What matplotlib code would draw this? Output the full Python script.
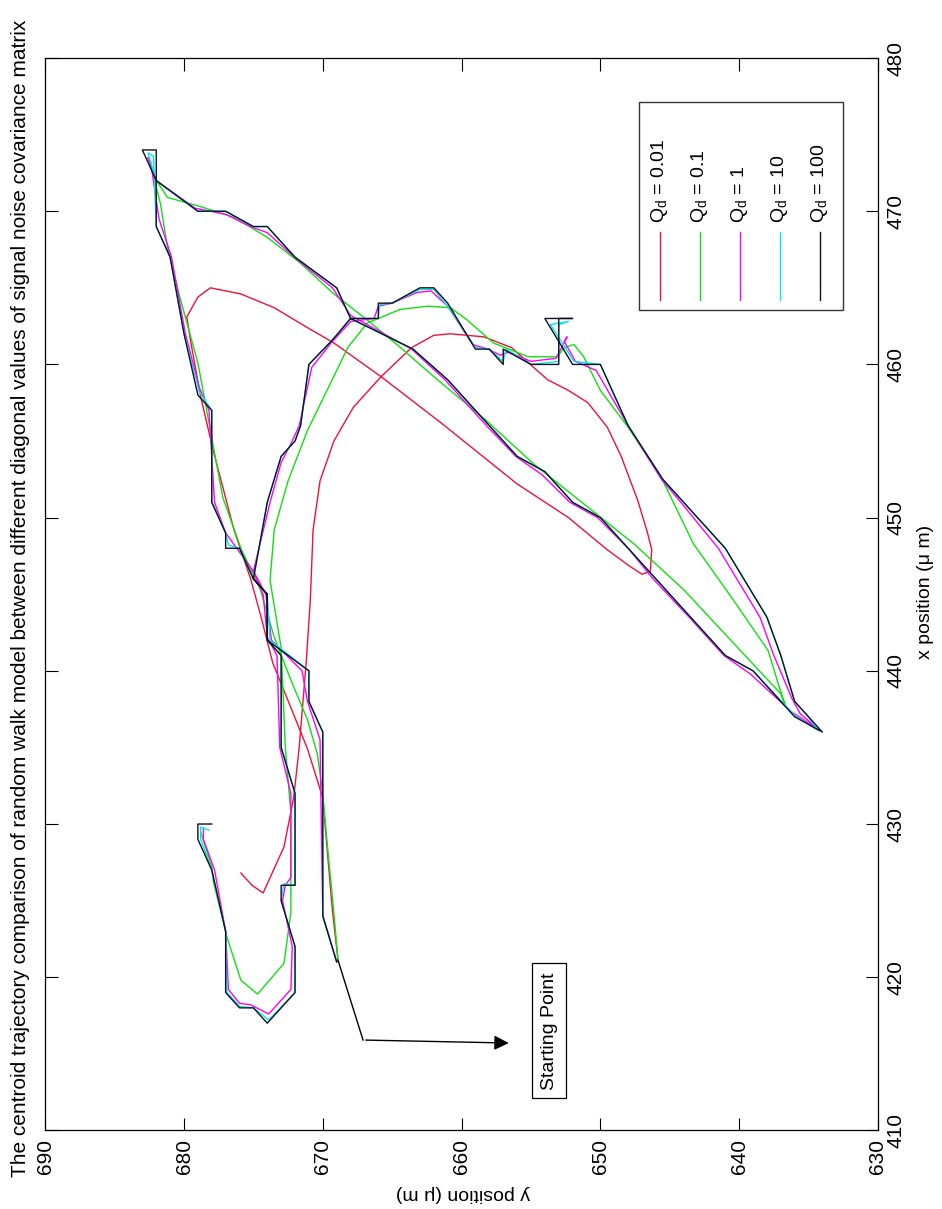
import matplotlib
matplotlib.use("Agg")
import matplotlib.pyplot as plt

plt.rcParams['font.family'] = ['Liberation Sans', 'DejaVu Sans']
plt.rcParams['mathtext.fontset'] = 'custom'
plt.rcParams['mathtext.rm'] = 'Liberation Sans'

# centroid trajectories, x position / y position in micrometres
# Q_d = 100 (practically the raw measurement path)
k_x = [421, 424, 436, 438, 440, 442, 445, 446, 448, 448, 449, 451, 457, 458, 462, 467, 469, 474, 474,
       472, 470, 470, 469, 469, 467, 465, 463, 461, 459, 456, 454, 453, 451, 450, 448, 446, 443.5, 441,
       440, 437, 436, 437, 438, 441, 443.5, 448, 451, 452.5, 456, 460, 460, 463, 463, 463, 460, 460,
       461, 460, 461, 461, 464, 465, 465, 464, 464, 463, 463, 461.6, 460, 456, 455, 454, 451, 446, 445,
       442, 441, 435, 432, 426, 426, 425, 422, 419, 417, 418, 418, 419, 423, 427, 429, 430, 430]
k_y = [669, 670, 670, 671, 671, 674, 674, 675, 676, 677, 677, 678, 678, 679, 680, 681, 682, 682, 683,
       682, 679, 677, 675, 674, 672, 669, 668, 663.5, 661, 658, 656, 654, 652, 650, 648, 646, 643.5, 641,
       639, 636, 634, 635, 636, 637, 638, 641, 644, 645.5, 648, 650, 652, 654, 652, 653, 653, 655,
       657, 657, 658, 659, 661, 662, 663, 665, 666, 666, 668, 669.3, 671, 671.6, 672, 673, 674, 675, 674,
       674, 673, 673, 672, 672, 673, 673, 672, 672, 674, 675, 676, 677, 677, 678, 679, 679, 678]

# Q_d = 10
c_x = [421, 424, 436, 438, 440, 442, 445, 446, 448, 448.2, 449, 451, 457, 458.2, 462, 467, 469, 473.6, 473.8,
       472, 470, 470, 469, 469, 467, 465, 463, 461, 459, 456, 454, 453, 451, 450, 448, 446, 443.5, 441,
       440, 437.1, 436.1, 437.1, 438, 441, 443.5, 448, 451, 452.5, 456, 460, 460.2, 462.6, 462.8, 462.6, 460.2, 460,
       461, 460.2, 461, 461.1, 463.8, 464.9, 464.9, 464, 463.9, 463, 463, 461.6, 460, 456, 455, 454, 451, 446, 445,
       442, 441, 435, 432, 426, 426.1, 425, 422, 419, 417.2, 418, 418.1, 419, 423, 427, 429, 429.8, 429.6]
c_y = [669, 670, 670, 671, 671, 673.8, 674, 675, 676, 676.8, 677, 678, 678, 678.9, 680, 681, 682, 682.2, 682.6,
       682, 679, 677, 675, 674, 672, 669, 668, 663.5, 661, 658, 656, 654, 652, 650, 648, 646, 643.5, 641,
       639, 636, 634.3, 635.1, 636, 637, 638, 641, 644, 645.5, 648, 650, 651.9, 653.6, 652.3, 653, 653, 655,
       656.8, 657, 658, 659, 661, 662, 663, 665, 665.9, 666, 668, 669.3, 671, 671.6, 672, 673, 674, 675, 674,
       674, 673, 673, 672, 672, 672.8, 673, 672, 672, 673.9, 675, 676, 676.9, 677, 678, 678.8, 678.8, 678.2]

# Q_d = 1
m_x = [421, 424, 435.5, 438, 440, 442, 445, 446.5, 448, 449, 451, 457, 458.5, 462, 467, 469.5, 473.2, 473.5,
       472, 470.2, 469.8, 469, 468.6, 466.8, 465, 463.2, 461, 459, 456, 454, 452.8, 451, 450, 448, 446,
       443.5, 441, 439.8, 437.3, 436.2, 437.2, 438.2, 441, 443.5, 448, 451, 452.5, 456, 459.6, 460.2,
       461.5, 461.8, 460.4, 460.2, 460.8, 460.6, 461, 461.3, 463.8, 464.8, 464.7, 464, 463.8, 463, 462.8,
       461.4, 459.8, 456, 455, 453.6, 451, 446.5, 445, 442.2, 441, 435, 432, 426.5, 426, 425, 422, 419.2,
       417.6, 418.2, 418.3, 419.2, 423, 427, 429, 429.7]
m_y = [669, 670, 670.2, 671.1, 671.5, 673.7, 674.1, 675, 676.2, 677, 677.8, 678.2, 678.9, 679.9, 680.9, 681.8, 682.4, 682.6,
       682, 679.2, 677, 675.2, 674, 671.8, 669.3, 668, 663.6, 661.2, 658.2, 656.1, 654.2, 652.2, 650.2, 648, 646.2,
       643.6, 641.1, 639.2, 636.2, 634.3, 635.6, 636.2, 637.5, 638.5, 641.5, 644.2, 645.6, 648, 650.3, 651.8,
       652.6, 652.4, 653.2, 655, 656.6, 657.2, 658.1, 659.2, 661, 662.2, 663.2, 665, 666, 666.3, 668,
       669.4, 670.8, 671.7, 672.2, 673, 673.8, 675, 674.3, 674, 673.3, 673.1, 672.3, 672.3, 672.7, 672.9, 672.2, 672.3,
       673.9, 675.2, 676, 676.8, 677, 677.8, 678.6, 678.6]

# Q_d = 0.1
g_x = [421.1, 424.2, 428.9, 432, 434.6, 436.8, 439.4, 442.2, 445.3, 448, 451.3, 455.7, 460.1, 464.4, 467.7,
       470.5, 472.3, 470.9, 470.3, 469.6, 468.3, 466.6, 464.6, 462.9, 461.1, 459.2, 456.4, 453.5, 450.9,
       448.3, 445.3, 441.8, 438.5, 437.8, 439.2, 441.3, 444.6, 448.3, 452.6, 455.9, 458.3, 460.5, 461.3,
       461.1, 460.5, 460.5, 461.4, 462.9, 463.7, 463.8, 463.6, 462.7, 461.1, 458.3, 455.7, 452.4, 449.2,
       445.9, 441.5, 435, 430.7, 424.2, 420.9, 418.9, 419.8, 422.6, 426.3, 427.2, 429.5]
g_y = [668.9, 669.2, 669.7, 670, 670.4, 671.1, 672.3, 673.5, 674.5, 675.9, 677.2, 678.1, 679, 680.3, 681.2,
       681.7, 682.2, 681.2, 678.8, 676.4, 674, 671.6, 669.2, 666.8, 664.4, 662, 658.3, 654.8, 651.2,
       647.6, 644, 640.4, 637, 636.7, 637.2, 637.9, 640.4, 643.3, 645.6, 648, 650, 651.2, 651.9,
       652.6, 653.1, 655.2, 657.7, 659.6, 660.8, 662.4, 664.4, 666.8, 668.2, 669.7, 671.1, 672.5, 673.5,
       673.8, 673, 672.7, 672.3, 672.3, 672.8, 674.7, 675.9, 676.9, 677.9, 678, 678.8]

# Q_d = 0.01
r_x = [421.1, 424.3, 428.5, 431.7, 434.9, 437.6, 440.5, 443.7, 446, 449.2, 454.4, 457.9, 461.4, 463.1,
       464.4, 465, 464.6, 463.7, 462.4, 461.4, 459.2, 456.2, 452.2, 450, 447.9, 446.9, 446.3, 446.5,
       447.9, 449, 451.1, 454, 455.9, 457.5, 458.3, 459, 459.8, 461.1, 461.8, 462, 461.9, 461.1, 459.2,
       457.2, 455, 452.4, 449.2, 444.6, 440.5, 435, 431.7, 428.5, 425.5, 426, 426.8]
r_y = [668.9, 669.3, 669.7, 670, 671.1, 672.3, 673.6, 674.5, 675.2, 676.4, 677.9, 678.8, 679.5, 679.8,
       679, 678.1, 675.9, 673.5, 671.1, 669.2, 665.8, 661.5, 656, 652.3, 649.5, 648, 647, 646.4,
       646.3, 646.6, 647.3, 648.5, 649.5, 650.9, 652.3, 653.8, 654.8, 656.4, 658.4, 660.8, 662, 663.6, 665.8,
       667.8, 669.2, 670.2, 670.7, 670.9, 671.2, 671.7, 672.1, 672.8, 674.3, 675.1, 675.9]

series = [
    (r_x, r_y, '#f0103a', 'Q$_{\\rm d}$ = 0.01'),
    (g_x, g_y, '#10e010', 'Q$_{\\rm d}$ = 0.1'),
    (m_x, m_y, '#ff00ff', 'Q$_{\\rm d}$ = 1'),
    (c_x, c_y, '#00e8e8', 'Q$_{\\rm d}$ = 10'),
    (k_x, k_y, '#101020', 'Q$_{\\rm d}$ = 100'),
]

start = (421.1, 668.9)
bend = (415.9, 667.1)
tip = (415.7, 656.4)
label_pos = (416.5, 653.7)

x_ticks = [410, 420, 430, 440, 450, 460, 470, 480]
y_ticks = [690, 680, 670, 660, 650, 640, 630]

title = ("The centroid trajectory comparison of random walk model between different "
         "diagonal values of signal noise covariance matrix")

# page is turned: y runs along the horizontal axis (reversed), x runs upward
fig = plt.figure(figsize=(9.42, 12.09), dpi=100)
ax = fig.add_axes([0.048, 0.065, 0.884, 0.887])

for xs, ys, col, lab in series:
    ax.plot(ys, xs, color=col, lw=1.0)

ax.set_xlim(690, 630)
ax.set_ylim(410, 480)
ax.set_xticks(y_ticks)
ax.set_yticks(x_ticks)
ax.tick_params(direction='in', length=9, width=0.8, top=True, bottom=True, left=True, right=True,
               labelleft=False, labelright=True, labelsize=15, pad=6)
for t in ax.get_xticklabels():
    t.set_rotation(90)
for t in ax.get_yticklabels():
    t.set_rotation(90)
    t.set_va('center')
for s in ax.spines.values():
    s.set_linewidth(0.9)

# legend drawn by hand so it can be turned with the page
ax.add_patch(plt.Rectangle((0.713, 0.765), 0.245, 0.194, transform=ax.transAxes,
                           fill=False, lw=1.0, ec='#333333', zorder=5))
for i, (xs, ys, col, lab) in enumerate(series):
    xc = 0.738 + i * 0.048
    ax.plot([xc, xc], [0.774, 0.838], color=col, lw=1.0, transform=ax.transAxes, zorder=6)
    ax.text(xc, 0.846, lab, rotation=90, ha='center', va='bottom', fontsize=14,
            transform=ax.transAxes, zorder=6)

# starting point marker
ax.plot([start[1], bend[1]], [start[0], bend[0]], color='black', lw=1.0)
ax.annotate('', xy=(tip[1], tip[0]), xytext=(bend[1], bend[0]),
            arrowprops=dict(arrowstyle='-|>', color='black', lw=1.0, mutation_scale=22))
ax.text(label_pos[1], label_pos[0], 'Starting Point', rotation=90, ha='center', va='center',
        fontsize=14, bbox=dict(boxstyle='square,pad=0.45', fc='white', ec='black', lw=0.9))

fig.text(0.022, 0.505, title, rotation=90, ha='center', va='center', fontsize=15)
fig.text(0.982, 0.51, 'x position (\u03bc m)', rotation=90, ha='center', va='center', fontsize=14)
fig.text(0.491, 0.013, 'y position (\u03bc m)', rotation=180, ha='center', va='center', fontsize=14)

fig.savefig('out.png', dpi=100)
